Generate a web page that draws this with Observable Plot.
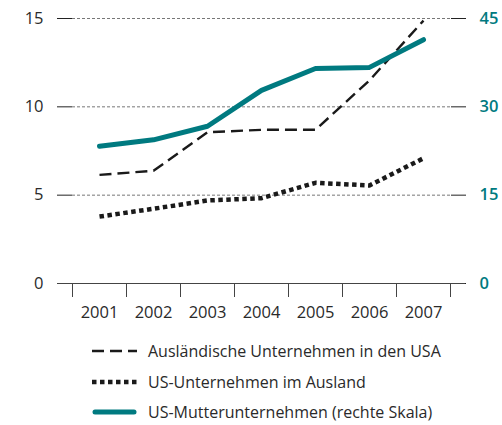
<!DOCTYPE html>
<html>
<head>
<meta charset="utf-8">
<script src="https://cdn.jsdelivr.net/npm/d3@7"></script>
<script src="https://cdn.jsdelivr.net/npm/@observablehq/plot@0.6"></script>
<style>
  body { margin: 0; background: #fff; font-family: "Open Sans", sans-serif; }
  #chart svg { display: block; }
  .legend { padding-left: 92px; margin-top: 6px; }
  .row { display: flex; align-items: center; height: 30.5px; font-size: 16px; color: #2a2a2a; }
  .row svg { margin-right: 11px; }
</style>
</head>
<body>
<div id="chart"></div>
<div class="legend" id="legend"></div>
<script>
const years = [2001, 2002, 2003, 2004, 2005, 2006, 2007];
const auslaendische = [6.15, 6.38, 8.56, 8.7, 8.7, 11.5, 14.88];
const usAusland = [3.79, 4.23, 4.7, 4.83, 5.7, 5.55, 7.09];
const usMutter = [23.3, 24.4, 26.7, 32.8, 36.5, 36.7, 41.4]; // right scale
const leftTicks = [0, 5, 10, 15];
const seriesNames = [
  "Ausländische Unternehmen in den USA",
  "US-Unternehmen im Ausland",
  "US-Mutterunternehmen (rechte Skala)"
];
const teal = "#007a80";
const ratio = 3; // right scale 45 ↔ left 15

const boundaries = [...years.map(y => y - 0.5), years[years.length - 1] + 0.5];
const d1 = years.map((y, i) => ({year: y, v: auslaendische[i]}));
const d2 = years.map((y, i) => ({year: y, v: usAusland[i]}));
const d3data = years.map((y, i) => ({year: y, v: usMutter[i] / ratio}));

const plot = Plot.plot({
  width: 502,
  height: 330,
  marginLeft: 72,
  marginRight: 52,
  marginTop: 18,
  marginBottom: 47,
  style: {fontFamily: "'Open Sans', sans-serif", fontSize: "16.5px", color: "#2a2a2a", background: "#fff"},
  x: {domain: [boundaries[0], boundaries[boundaries.length - 1]], axis: null},
  y: {domain: [0, 15], axis: null},
  marks: [
    Plot.gridY({ticks: leftTicks.slice(1), stroke: "#777", strokeOpacity: 1, strokeDasharray: "3,2", strokeWidth: 1}),
    Plot.axisY({anchor: "left", label: null, ticks: leftTicks, tickSize: 15, tickPadding: 14, stroke: "#222", fill: "#2a2a2a", tickFormat: d => String(d)}),
    Plot.axisY({anchor: "right", label: null, ticks: leftTicks, tickSize: 15, tickPadding: 14, stroke: "#222", fill: teal, fontWeight: 600, tickFormat: d => String(d * ratio)}),
    Plot.axisX({label: null, ticks: boundaries, tickSize: 14, tickFormat: () => "", stroke: "#444"}),
    Plot.axisX({label: null, ticks: years, tickSize: 0, tickPadding: 23, tickFormat: d => String(d), fill: "#2a2a2a"}),
    Plot.ruleY([0], {stroke: "#444", strokeWidth: 1.2, insetLeft: -15, insetRight: -15}),
    Plot.line(d1, {x: "year", y: "v", stroke: "#1a1a1a", strokeWidth: 2.4, strokeDasharray: "12,6", strokeLinecap: "butt", strokeLinejoin: "miter"}),
    Plot.line(d2, {x: "year", y: "v", stroke: "#1a1a1a", strokeWidth: 4.5, strokeDasharray: "4.5,3.5", strokeLinecap: "butt", strokeLinejoin: "miter"}),
    Plot.line(d3data, {x: "year", y: "v", stroke: teal, strokeWidth: 5, strokeLinecap: "round", strokeLinejoin: "round"})
  ]
});
document.getElementById("chart").appendChild(plot);

const styles = [
  {stroke: "#1a1a1a", width: 2.4, dash: "12,6", cap: "butt"},
  {stroke: "#1a1a1a", width: 4.5, dash: "4.5,3.5", cap: "butt"},
  {stroke: teal, width: 5, dash: null, cap: "round"}
];
const legend = document.getElementById("legend");
seriesNames.forEach((name, i) => {
  const s = styles[i];
  const row = document.createElement("div");
  row.className = "row";
  row.innerHTML = `<svg width="45" height="12"><line x1="${s.cap === 'round' ? 3 : 0}" x2="${s.cap === 'round' ? 42 : 45}" y1="6" y2="6" stroke="${s.stroke}" stroke-width="${s.width}" ${s.dash ? `stroke-dasharray="${s.dash}"` : ""} stroke-linecap="${s.cap}"/></svg><span>${name}</span>`;
  legend.appendChild(row);
});
</script>
</body>
</html>
